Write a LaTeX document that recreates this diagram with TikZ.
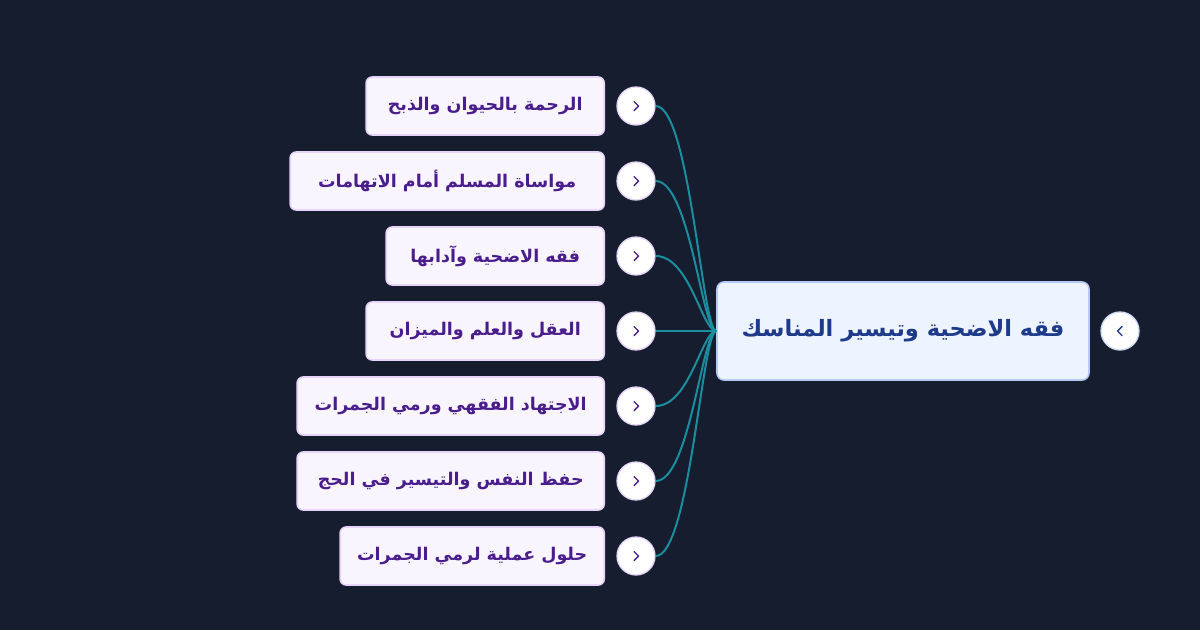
\documentclass[tikz,border=0pt]{standalone}
\usepackage{fontspec}
\newfontfamily\arabicfont[Script=Arabic]{DejaVu Sans}
\TeXXeTstate=1
\definecolor{bg}{HTML}{161D2F}
\definecolor{teal}{HTML}{1A8E9E}
\definecolor{cfill}{HTML}{F9F5FF}
\definecolor{cborder}{HTML}{E6D4FB}
\definecolor{ctext}{HTML}{4A1D8C}
\definecolor{rfill}{HTML}{EEF4FF}
\definecolor{rborder}{HTML}{B4CAF4}
\definecolor{rtext}{HTML}{1E3A8A}
\definecolor{kborder}{HTML}{E2D2F8}
\tikzset{
  childbox/.style={draw=cborder, fill=cfill, line width=1.6pt, rounded corners=6pt,
    minimum height=58pt, anchor=east, inner sep=0pt, text=ctext,
    font=\arabicfont\bfseries\fontsize{17.5}{21}\selectfont},
  rootbox/.style={draw=rborder, fill=rfill, line width=1.6pt, rounded corners=7pt,
    minimum width=372pt, minimum height=98pt, inner sep=0pt, text=rtext,
    font=\arabicfont\bfseries\fontsize{22.5}{27}\selectfont},
  knob/.style={circle, draw=kborder, fill=white, line width=1.3pt, minimum size=38pt, inner sep=0pt},
  conn/.style={draw=teal, line width=2pt},
  chev/.style={line width=1.4pt, line cap=round, line join=round},
}
\begin{document}
\begin{tikzpicture}[x=1pt,y=-1pt]
\fill[bg] (0,0) rectangle (1200,630);
\useasboundingbox (0,0) rectangle (1200,630);

% root
\node[rootbox] (root) at (903,331) {\beginR فقه الاضحية وتيسير المناسك\endR};
\node[knob, draw=rborder!70] (rk) at (1120,331) {};
\draw[chev, rtext] ([xshift=2pt,yshift=-4.5pt]rk.center) -- ([xshift=-2.5pt]rk.center) -- ([xshift=2pt,yshift=4.5pt]rk.center);

% children
\node[childbox, minimum width=238pt] (c1) at (605,106) {\beginR الرحمة بالحيوان والذبح\endR};
\node[childbox, minimum width=314pt] (c2) at (605,181) {\beginR مواساة المسلم أمام الاتهامات\endR};
\node[childbox, minimum width=218pt] (c3) at (605,256) {\beginR فقه الاضحية وآدابها\endR};
\node[childbox, minimum width=238pt] (c4) at (605,331) {\beginR العقل والعلم والميزان\endR};
\node[childbox, minimum width=307pt] (c5) at (605,406) {\beginR الاجتهاد الفقهي ورمي الجمرات\endR};
\node[childbox, minimum width=307pt] (c6) at (605,481) {\beginR حفظ النفس والتيسير في الحج\endR};
\node[childbox, minimum width=264pt] (c7) at (605,556) {\beginR حلول عملية لرمي الجمرات\endR};

\foreach \i/\y in {1/106,2/181,3/256,4/331,5/406,6/481,7/556}{
  \node[knob] (k\i) at (636,\y) {};
  \draw[chev, ctext] ([xshift=-2pt,yshift=-4.5pt]k\i.center) -- ([xshift=2.5pt]k\i.center) -- ([xshift=-2pt,yshift=4.5pt]k\i.center);
  \draw[conn] (k\i.east) .. controls +(34,0) and +(-14,0) .. (root.west);
}
\end{tikzpicture}
\end{document}
